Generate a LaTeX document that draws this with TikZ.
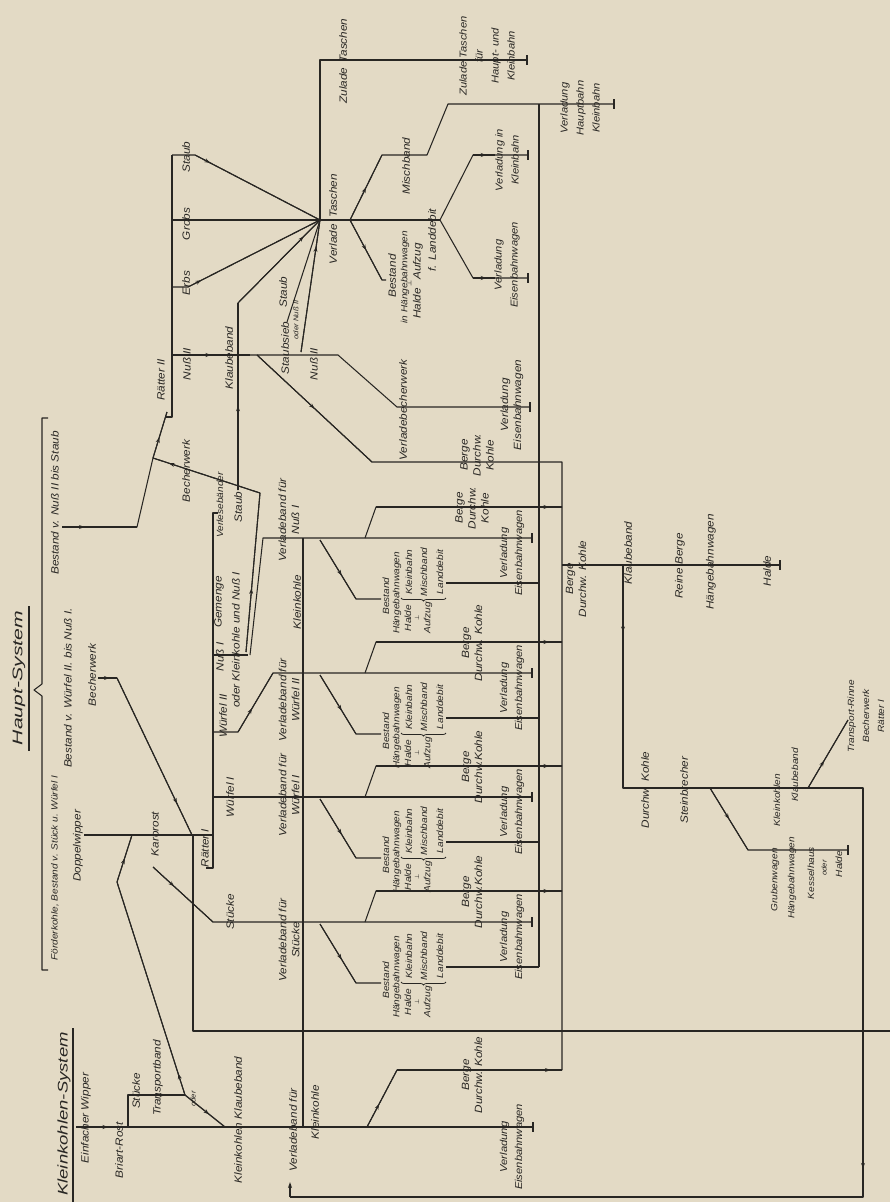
\documentclass[tikz,border=0pt]{standalone}
\usepackage{fontspec}
\usepackage{graphicx}
\usetikzlibrary{arrows.meta,decorations.markings,decorations.pathreplacing}
\setmainfont{Liberation Sans}[FakeStretch=1.12]
\newfontfamily\symf{DejaVu Sans}
\definecolor{paper}{RGB}{227,218,197}
\definecolor{ink}{RGB}{40,38,35}
\tikzset{
  ln/.style={draw=ink, line width=1.05pt, line join=round},
  lb/.style={rotate=90, font=\itshape\fontsize{10.5}{13}\selectfont, text=ink, inner sep=0.5pt, align=center},
  lbm/.style={lb, font=\itshape\fontsize{9}{11}\selectfont},
  lbs/.style={lb, font=\itshape\fontsize{7}{8}\selectfont},
  lbt/.style={rotate=90, font=\itshape\fontsize{14}{16}\selectfont, text=ink, inner sep=0pt},
  ar/.style={postaction={decorate}, decoration={markings, mark=at position #1 with {\arrow{Stealth[length=5.5pt,width=4pt,color=ink]}}}},
  ar/.default=0.5,
  brc/.style={draw=ink, line width=0.75pt, decorate, decoration={brace, amplitude=3pt}},
}
\newcommand\teebar[2]{\draw[ln] (#1,#2-5) -- (#1,#2+5);}
\begin{document}
\begin{tikzpicture}[x=1pt,y=-1pt]
\fill[paper] (0,0) rectangle (890,1202);
\useasboundingbox (0,0) rectangle (890,1202);

% ---------------- titles and brace ----------------
\node[lbt] (tHS) at (19,678) {\scalebox{1.35}[1]{Haupt-System}};
\draw[ln] (29,606) -- (29,751);
\node[lbt] (tKS) at (64,1114) {\scalebox{1.18}[1]{Kleinkohlen-System}};
\draw[ln] (73,1028) -- (73,1202);
\draw[ln] (48,418) -- (42,418) -- (42,684) -- (34,690) -- (42,696) -- (42,970) -- (48,970);
\node[lb] (bNS) at (55,503) {Bestand v. Nuß II bis Staub};
\node[lb] (bWN) at (68,688) {Bestand v. Würfel II. bis Nuß I.};
\node[lb,font=\itshape\fontsize{9}{10}\selectfont] (bFK) at (55,868) {Förderkohle, Bestand v. Stück u. Würfel I};

% ---------------- Raetter II ----------------
\coordinate (H) at (320,220);
\coordinate (J1) at (153,458);
\draw[ln] (172,155) -- (172,417) -- (166,417);
\node[lb] (rII) at (161,380) {Rätter II};
\draw[ln] (172,155) -- (195,155) -- (H);
\draw[ln, ar=0.12] (195,155) -- (H);
\draw[ln] (172,220) -- (H);
\draw[ln] (172,287) -- (188,287) -- (H);
\draw[ln, ar=0.1] (188,287) -- (H);
\node[lb] (oSt) at (186,157) {Staub};
\node[lb] (oGr) at (186,224) {Grobs};
\node[lb] (oEr) at (186,283) {Erbs};
\node[lb] (oNu) at (187,364) {Nuß II};
% Klaubeband
\draw[ln] (238,490) -- (238,303) -- (H);
\draw[ln, ar=0.45] (238,490) -- (238,303);
\draw[ln, ar=0.8] (238,303) -- (H);
\node[lb] (kb) at (229,358) {Klaubeband};
% Nuss II line
\draw[ln] (172,355) -- (338,355) -- (397,407) -- (530,407);
\draw[ln, ar=0.5] (172,355) -- (250,355);
\teebar{530}{407}
\node[lb] (ssb) at (285,348) {Staubsieb};
\node[lb] (nII) at (314,364) {Nuß II};
\node[lb] (vbw) at (403,410) {Verladebecherwerk};
\node[lb] (veb0) at (512,405) {Verladung\\Eisenbahnwagen};
\draw[ln] (287,322) -- (H);
\draw[ln] (301,352) -- (H);
\draw[ln, ar=0.8] (301,352) -- (H);
\node[lb] (sst) at (283,292) {Staub};
\node[lbs] (son) at (296,320) {oder Nuß II};
% Staubsieb diagonal to Berge collector
\draw[ln] (257,355) -- (372,462) -- (562,462) -- (562,1070);
\draw[ln, ar=0.5] (257,355) -- (372,462);
\node[lb] (bg0) at (477,455) {Berge\\Durchw.\\Kohle};

% ---------------- Verladetaschen hub ----------------
\draw[ln] (H) -- (320,60) -- (527,60);
\teebar{527}{60}
\node[lb] (zt) at (343,61) {Zulade\hspace{5pt}Taschen};
\node[lb,font=\itshape\fontsize{10}{16}\selectfont] (zt2) at (487,56) {Zulade Taschen\\für\\Haupt- und\\Kleinbahn};
\draw[ln] (H) -- (440,220);
\node[lb] (vt) at (333,219) {Verlade\hspace{6pt}Taschen};
\draw[ln] (350,220) -- (382,155) -- (427,155) -- (448,104) -- (614,104);
\draw[ln, ar=0.5] (350,220) -- (382,155);
\teebar{614}{104}
\node[lb] (mb) at (406,166) {Mischband};
\node[lb,font=\itshape\fontsize{10}{16}\selectfont] (vhk) at (580,108) {Verladung\\Hauptbahn\\Kleinbahn};
\draw[ln] (350,220) -- (382,280) -- (386,280);
\draw[ln, ar=0.5] (350,220) -- (382,280);
\node[lb] (bst) at (392,276) {Bestand};
\node[lbm] (bst2) at (405,277) {in Hängebahnwagen};
\node[lb] (bst3) at (418,281) {Halde \,\,\,Aufzug};
\node[lb,font=\symf\fontsize{7}{8}\selectfont] at (409,283) {⊥};
\node[lb] (bst4) at (432,240) {f. Landdebit};
\draw[ln] (440,220) -- (473,155) -- (528,155);
\draw[ln, ar=0.6] (473,155) -- (495,155);
\teebar{528}{155}
\draw[ln] (440,220) -- (473,278) -- (528,278);
\draw[ln, ar=0.6] (473,278) -- (495,278);
\teebar{528}{278}
\node[lb,font=\itshape\fontsize{10}{16}\selectfont] (vik) at (507,160) {Verladung in\\Kleinbahn};
\node[lb,font=\itshape\fontsize{10}{16}\selectfont] (vew) at (507,265) {Verladung\\Eisenbahnwagen};
% Landdebit collector
\draw[ln] (539,104) -- (539,967);

% ---------------- Becherwerke ----------------
\draw[ln] (62,527) -- (137,527) -- (J1) -- (167,412);
\draw[ln, ar=0.3] (62,527) -- (137,527);
\draw[ln, ar=0.45] (J1) -- (167,412);
\draw[ln] (246,652) -- (260,493) -- (J1);
\draw[ln, ar=0.4] (246,652) -- (260,493);
\draw[ln, ar=0.85] (260,493) -- (J1);
\node[lb] (bw1) at (186,471) {Becherwerk};
\draw[ln] (98,678) -- (117,678) -- (192,835);
\draw[ln, ar=0.6] (98,678) -- (117,678);
\draw[ln, ar=0.8] (117,678) -- (192,835);
\node[lb] (bw2) at (92,675) {Becherwerk};
\draw[ln] (84,835) -- (213,835);
\node[lb] (dw) at (78,846) {Doppelwipper};
\node[lb] (kr) at (155,834) {Karorost};
\draw[ln] (132,835) -- (117,882) -- (185,1095);
\draw[ln, ar=0.5] (117,882) -- (132,835);
\draw[ln, ar=0.1] (185,1095) -- (117,882);
\draw[ln] (193,835) -- (193,1031) -- (890,1031);

% ---------------- Raetter I ----------------
\draw[ln] (218,513) -- (213,513) -- (213,868) -- (206,868);
\node[lb] (rI) at (205,848) {Rätter I};
\node[lbm] (vlb) at (220,505) {Verlesebänder};
\node[lb] (vst) at (238,507) {Staub};
\node[lb] (gem) at (219,602) {Gemenge};
\node[lb] (okn) at (236,640) {oder Kleinkohle und Nuß I};
\node[lb] (n1) at (220,657) {Nuß I};
\node[lb] (w2) at (223,716) {Würfel II};
\node[lb] (w1) at (230,797) {Würfel I};
\node[lb] (stk) at (230,912) {Stücke};
\draw[ln] (213,655) -- (248,655);
\draw[ln] (250,655) -- (263,538) -- (532,538);
\draw[ln] (213,732) -- (238,732) -- (273,673) -- (532,673);
\draw[ln, ar=0.4] (238,732) -- (273,673);
\draw[ln] (213,797) -- (532,797);
\draw[ln] (153,867) -- (213,922) -- (532,922);
\draw[ln, ar=0.35] (153,867) -- (213,922);
\draw[ln] (303,538) -- (303,1127);
\node[lb] (vb1) at (289,520) {Verladeband für\\Nuß I};
\node[lb] (kk) at (297,602) {Kleinkohle};
\node[lb] (vb2) at (289,700) {Verladeband für\\Würfel II};
\node[lb] (vb3) at (289,795) {Verladeband für\\Würfel I};
\node[lb] (vb4) at (289,940) {Verladeband für\\Stücke};

% ---------------- modules ----------------
\foreach \Y/\BT in {538/{Berge\\Durchw.\\Kohle},673/{Berge\\Durchw. Kohle},797/{Berge\\Durchw.Kohle},922/{Berge\\Durchw.Kohle}} {
  \teebar{532}{\Y}
  \draw[ln] (365,\Y) -- (376,\Y-31) -- (562,\Y-31);
  \draw[ln, ar=0.93] (376,\Y-31) -- (562,\Y-31);
  \node[lb] (bg\Y) at (472,\Y-30) {\BT};
  \draw[ln] (320,\Y+2) -- (356,\Y+61) -- (381,\Y+61);
  \draw[ln, ar=0.6] (320,\Y+2) -- (356,\Y+61);
  \node[lbm] (be\Y) at (386,\Y+58) {Bestand};
  \node[lbm] (hb\Y) at (397,\Y+55) {Hängebahnwagen};
  \node[lbm] (ha\Y) at (408,\Y+80) {Halde};
  \node[lb,font=\symf\fontsize{6}{7}\selectfont] at (417,\Y+80) {⊥};
  \node[lbm] (au\Y) at (428,\Y+80) {Aufzug};
  \draw[brc] (446,\Y+60) -- (401,\Y+60);
  \node[lbm] (kl\Y) at (409,\Y+34) {Kleinbahn};
  \node[lbm] (mi\Y) at (424,\Y+34) {Mischband};
  \node[lbm] (ld\Y) at (440,\Y+34) {Landdebit};
  \draw[ln] (446,\Y+45) -- (539,\Y+45);
  \node[lb,font=\itshape\fontsize{10}{15}\selectfont] (ve\Y) at (512,\Y+15) {Verladung\\Eisenbahnwagen};
}

% ---------------- Kleinkohlen-System ----------------
\draw[ln] (76,1127) -- (533,1127);
\draw[ln, ar=0.5] (76,1127) -- (140,1127);
\teebar{533}{1127}
\draw[ln] (128,1127) -- (128,1095) -- (185,1095);
\draw[ln, ar=0.65] (128,1095) -- (185,1095);
\draw[ln] (185,1095) -- (225,1127);
\draw[ln, ar=0.6] (185,1095) -- (225,1127);
\draw[ln] (367,1127) -- (397,1070) -- (562,1070);
\draw[ln, ar=0.4] (367,1127) -- (397,1070);
\draw[ln, ar=0.93] (397,1070) -- (562,1070);
\node[lb] (ew) at (86,1118) {Einfacher Wipper};
\node[lb] (br) at (119,1150) {Briart-Rost};
\node[lb] (stk2) at (136,1091) {Stücke};
\node[lb] (tb) at (158,1078) {Transportband};
\node[lbs] (od) at (193,1099) {oder};
\node[lb] (kkb) at (238,1120) {Kleinkohlen Klaubeband};
\node[lb] (vbk) at (293,1130) {Verladeband für};
\node[lb] (vbk2) at (315,1112) {Kleinkohle};
\node[lb] (bgk) at (472,1075) {Berge\\Durchw. Kohle};
\node[lb,font=\itshape\fontsize{10}{15}\selectfont] (vek) at (512,1147) {Verladung\\Eisenbahnwagen};

% ---------------- right part ----------------
\draw[ln] (562,565) -- (780,565);
\draw[ln] (780,560) -- (780,570);
\node[lb] (bgr) at (576,579) {Berge\\Durchw. Kohle};
\node[lb] (kbr) at (628,553) {Klaubeband};
\node[lb] (rb) at (680,566) {Reine Berge};
\node[lb] (hbr) at (711,562) {Hängebahnwagen};
\node[lb] (hd) at (767,571) {Halde};
\draw[ln] (623,565) -- (623,788) -- (863,788) -- (863,1197) -- (290,1197);
\draw[ln, -{Stealth[length=6pt,width=4pt,color=ink]}] (290,1197) -- (290,1182);
\draw[ln, ar=0.3] (623,565) -- (623,788);
\draw[ln, ar=0.93] (863,788) -- (863,1197);
\node[lb] (dk) at (645,790) {Durchw. Kohle};
\node[lb] (sb) at (684,790) {Steinbrecher};
\draw[ln] (710,788) -- (748,850) -- (848,850);
\draw[ln, ar=0.5] (710,788) -- (748,850);
\teebar{848}{850}
\node[lbm] at (775,880) {Grubenwagen};
\node[lbm] at (777,800) {Kleinkohlen};
\node[lbm] at (792,878) {Hängebahnwagen};
\node[lbm] at (795,775) {Klaubeband};
\node[lbm] at (811,873) {Kesselhaus};
\node[lbs] at (824,868) {oder};
\node[lbm] at (839,864) {Halde};
\draw[ln] (808,788) -- (848,720);
\draw[ln, ar=0.4] (808,788) -- (848,720);
\node[lbm,font=\itshape\fontsize{9}{15}\selectfont] (tr) at (866,716) {Transport-Rinne\\Becherwerk\\Rätter I};
\end{tikzpicture}
\end{document}
